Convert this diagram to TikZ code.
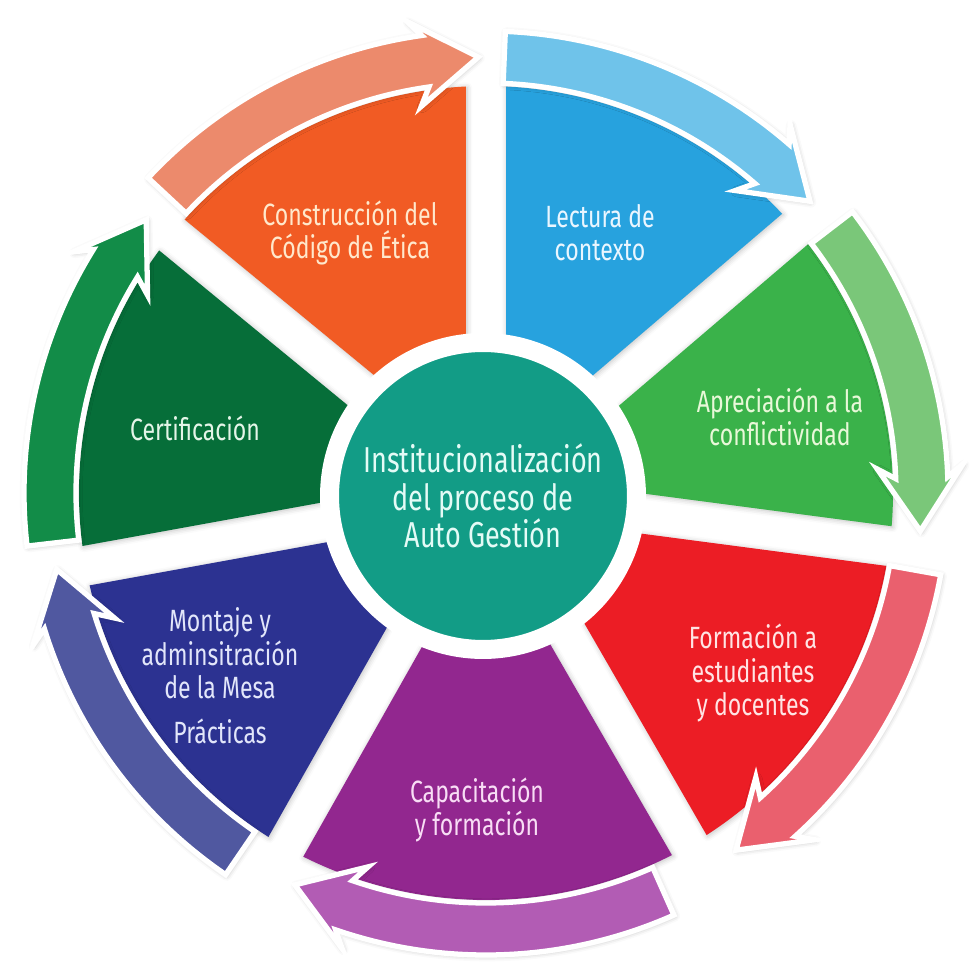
\documentclass[tikz,border=0pt]{standalone}
\usepackage{fontspec}
\setmainfont{Fira Sans}[FakeStretch=0.75]
\usepackage{tikz}
\usetikzlibrary{calc}
\usetikzlibrary{shadows.blur}

\definecolor{naranja}{RGB}{241,91,36}
\definecolor{naranjaF}{RGB}{236,138,108}
\definecolor{naranjaT}{RGB}{255,232,204}
\definecolor{azul}{RGB}{39,162,222}
\definecolor{azulF}{RGB}{111,195,234}
\definecolor{azulT}{RGB}{234,246,255}
\definecolor{verde}{RGB}{58,178,74}
\definecolor{verdeF}{RGB}{122,199,121}
\definecolor{verdeT}{RGB}{232,248,216}
\definecolor{rojo}{RGB}{236,29,37}
\definecolor{rojoF}{RGB}{234,96,110}
\definecolor{rojoT}{RGB}{255,228,228}
\definecolor{morado}{RGB}{146,39,143}
\definecolor{moradoF}{RGB}{178,92,180}
\definecolor{moradoT}{RGB}{248,221,245}
\definecolor{marino}{RGB}{44,50,145}
\definecolor{marinoF}{RGB}{80,88,160}
\definecolor{marinoT}{RGB}{226,230,250}
\definecolor{pino}{RGB}{6,110,57}
\definecolor{pinoF}{RGB}{18,140,72}
\definecolor{pinoT}{RGB}{228,245,232}
\definecolor{turquesa}{RGB}{18,156,134}
\definecolor{turquesaT}{RGB}{228,251,246}

\begin{document}
\begin{tikzpicture}[scale=0.02,
  rotulo/.style={align=center, inner sep=0pt, font=\fontsize{17.5}{18.9}\selectfont},
  flecha/.style={draw=white, line width=3pt, line join=miter,
    blur shadow={shadow xshift=0.6pt, shadow yshift=-0.6pt, shadow blur radius=3pt, shadow opacity=30}},
  sector/.style={blur shadow={shadow xshift=0.6pt, shadow yshift=-0.6pt, shadow blur radius=3pt, shadow opacity=25}}]
 \useasboundingbox (-486,-475) rectangle (486,493);
 \fill[sector, naranja] ($(140.6:60)+(50.6:20)$) -- (137.78:407) arc[start angle=137.78, end angle=92.82, radius=407] -- ($(90:60)+(180:20)$) -- cycle;
 \fill[sector, azul] ($(90:60)+(0:20)$) -- (87.18:407) arc[start angle=87.18, end angle=43.32, radius=407] -- ($(40.5:60)+(130.5:20)$) -- cycle;
 \fill[sector, verde] ($(40.5:60)+(-49.5:20)$) -- (37.68:407) arc[start angle=37.68, end angle=-4.68, radius=407] -- ($(-7.5:60)+(82.5:20)$) -- cycle;
 \fill[sector, rojo] ($(-7.5:60)+(-97.5:20)$) -- (-10.32:407) arc[start angle=-10.32, end angle=-57.18, radius=407] -- ($(-60:60)+(30:20)$) -- cycle;
 \fill[sector, morado] ($(-60:60)+(-150:20)$) -- (-62.82:407) arc[start angle=-62.82, end angle=-116.68, radius=407] -- ($(-119.5:60)+(-29.5:20)$) -- cycle;
 \fill[sector, marino] ($(-119.5:60)+(150.5:20)$) -- (-122.32:407) arc[start angle=-122.32, end angle=-166.88, radius=407] -- ($(-169.7:60)+(-79.7:20)$) -- cycle;
 \fill[sector, pino] ($(190.3:60)+(100.3:20)$) -- (187.48:407) arc[start angle=187.48, end angle=143.42, radius=407] -- ($(140.6:60)+(230.6:20)$) -- cycle;

 \filldraw[flecha, fill=naranjaF] (137:462) arc[start angle=137, end angle=98, radius=462] -- (99.5:478) -- (91:436) -- (99.5:392) -- (98:410) arc[start angle=98, end angle=137, radius=410] -- cycle;
 \filldraw[flecha, fill=azulF] (87.6:462) arc[start angle=87.6, end angle=49, radius=462] -- (50.5:478) -- (42:436) -- (50.5:392) -- (49:410) arc[start angle=49, end angle=87.6, radius=410] -- cycle;
 \filldraw[flecha, fill=verdeF] (37.5:462) arc[start angle=37.5, end angle=2, radius=462] -- (3.5:478) -- (-5:436) -- (3.5:392) -- (2:410) arc[start angle=2, end angle=37.5, radius=410] -- cycle;
 \filldraw[flecha, fill=rojoF] (-10.2:462) arc[start angle=-10.2, end angle=-48, radius=462] -- (-46.5:478) -- (-55:436) -- (-46.5:392) -- (-48:410) arc[start angle=-48, end angle=-10.2, radius=410] -- cycle;
 \filldraw[flecha, fill=moradoF] (-66:462) arc[start angle=-66, end angle=-109, radius=462] -- (-107.5:478) -- (-116:436) -- (-107.5:392) -- (-109:410) arc[start angle=-109, end angle=-66, radius=410] -- cycle;
 \filldraw[flecha, fill=marinoF] (-124.3:462) arc[start angle=-124.3, end angle=-162.9, radius=462] -- (-161.4:478) -- (-169.9:436) -- (-161.4:392) -- (-162.9:410) arc[start angle=-162.9, end angle=-124.3, radius=410] -- cycle;
 \filldraw[flecha, fill=pinoF] (186.6:462) arc[start angle=186.6, end angle=148.2, radius=462] -- (149.7:478) -- (141.2:436) -- (149.7:392) -- (148.2:410) arc[start angle=148.2, end angle=186.6, radius=410] -- cycle;

 \node[rotulo, text=naranjaT] (codigo) at (-136,260) {Construcción del\\Código de Ética};
 \node[rotulo, text=azulT] (lectura) at (114,260) {Lectura de\\contexto};
 \node[rotulo, text=verdeT] (apreciacion) at (294,76) {Apreciación a la\\conflictividad};
 \node[rotulo, text=rojoT] (formacion) at (267,-180) {Formación a\\estudiantes\\y docentes};
 \node[rotulo, text=moradoT] (capacitacion) at (-9,-317) {Capacitación\\y formación};
 \node[rotulo, text=marinoT] (montaje) at (-266,-183) {Montaje y\\adminsitración\\de la Mesa\\[7pt]Prácticas};
 \node[rotulo, text=pinoT] (certificacion) at (-291,65) {Certificación};

 \node[circle, fill=turquesa, draw=white, line width=0.38cm, minimum size=6.14cm, inner sep=0pt,
   align=center, text=turquesaT, font=\fontsize{20.5}{21.5}\selectfont,
   blur shadow={shadow xshift=0.6pt, shadow yshift=-0.6pt, shadow blur radius=4pt, shadow opacity=30}]
   (institucion) at (-3,-3) {Institucionalización\\del proceso de\\Auto Gestión};
\end{tikzpicture}
\end{document}
